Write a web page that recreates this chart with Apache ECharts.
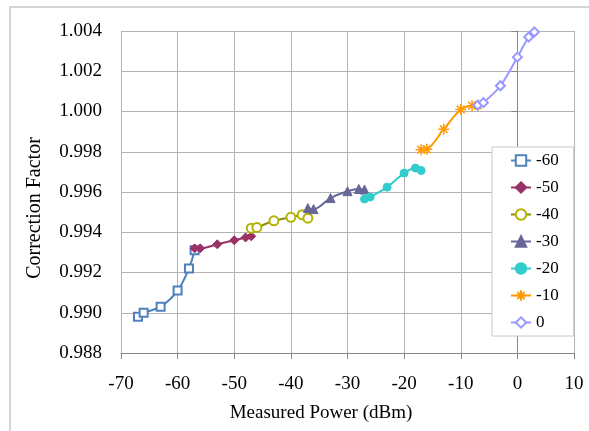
<!DOCTYPE html>
<html>
<head>
<meta charset="utf-8">
<script src="https://cdn.jsdelivr.net/npm/echarts@6/dist/echarts.min.js"></script>
<style>
  html, body { margin: 0; padding: 0; background: #fff; }
  #chart { width: 589px; height: 431px; }
</style>
</head>
<body>
<div id="chart"></div>
<script>
// Data: measured power (dBm) and correction factor per range
var seriesNames = ["-60", "-50", "-40", "-30", "-20", "-10", "0"];
var power60 = [-67, -66, -63, -60, -58, -57];
var factor60 = [0.9898, 0.9900, 0.9903, 0.9911, 0.9922, 0.9931];
var power50 = [-57, -56, -53, -50, -48, -47];
var factor50 = [0.9932, 0.9932, 0.9934, 0.9936, 0.99374, 0.9938];
var power40 = [-47, -46, -43, -40, -38, -37];
var factor40 = [0.9942, 0.99424, 0.99457, 0.99474, 0.99487, 0.9947];
var power30 = [-37, -36, -33, -30, -28, -27];
var factor30 = [0.9952, 0.99515, 0.9957, 0.99604, 0.99615, 0.99612];
var power20 = [-27, -26, -23, -20, -18, -17];
var factor20 = [0.99565, 0.99575, 0.99624, 0.99694, 0.99719, 0.99707];
var power10 = [-17, -16, -13, -10, -8, -7];
var factor10 = [0.9981, 0.99813, 0.99912, 1.0001, 1.00029, 1.0003];
var power0 = [-7, -6, -3, 0, 2, 3];
var factor0 = [1.00032, 1.00044, 1.00128, 1.0027, 1.0037, 1.00395];

var xValues = [power60, power50, power40, power30, power20, power10, power0];
var yValues = [factor60, factor50, factor40, factor30, factor20, factor10, factor0];

var colors = ["#4f81bd", "#993366", "#8c8c00", "#666699", "#33cccc", "#ff9900", "#9999ff"];
var markerColors = ["#4f81bd", "#993366", "#b3b300", "#666699", "#33cccc", "#ff9900", "#9999ff"];
var symbols = [
    "emptyRect",
    "diamond",
    "emptyCircle",
    "triangle",
    "circle",
    "path://M0,-10L0,10M-10,0L10,0M-7,-7L7,7M7,-7L-7,7",
    "emptyDiamond",
];
var symbolSizes = [8, 9, 9, 9, 8, 11, 9];

var font = "Liberation Serif";

var myChart = echarts.init(document.getElementById("chart"), null, {
    width: 589,
    height: 431,
    renderer: "canvas",
});

var series = seriesNames.map(function (name, i) {
    var pts = xValues[i].map(function (x, j) {
        return [x, yValues[i][j]];
    });
    var isStar = i === 5;
    return {
        name: name,
        type: "line",
        data: pts,
        smooth: 0.35,
        symbol: symbols[i],
        symbolSize: symbolSizes[i],
        showAllSymbol: true,
        lineStyle: { color: colors[i], width: 2 },
        itemStyle: {
            color: isStar ? "rgba(0,0,0,0)" : markerColors[i],
            borderColor: markerColors[i],
            borderWidth: isStar ? 1.5 : 1,
        },
        emphasis: { disabled: true },
        animation: false,
    };
});

var option = {
    backgroundColor: "#fff",
    animation: false,
    graphic: [
        {
            type: "polyline",
            shape: { points: [[10, 431], [10, 7], [589, 7]] },
            style: { stroke: "#d4d4d4", lineWidth: 2, fill: null },
            silent: true,
        },
        {
            // axis titles are centred on the (cropped) chart area, not the plot
            type: "text",
            x: 321,
            y: 413,
            style: {
                text: "Measured Power (dBm)",
                font: "19px " + font,
                fill: "#000",
                textAlign: "center",
                textVerticalAlign: "middle",
            },
            silent: true,
        },
        {
            type: "text",
            x: 35,
            y: 208,
            rotation: Math.PI / 2,
            style: {
                text: "Correction Factor",
                font: "20px " + font,
                fill: "#000",
                textAlign: "center",
                textVerticalAlign: "middle",
            },
            silent: true,
        },
    ],
    grid: {
        left: 121,
        top: 31,
        right: 15,
        bottom: 78,
        containLabel: false,
    },
    legend: {
        orient: "vertical",
        left: 492,
        top: 147,
        padding: [5, 15, 5, 18],
        itemWidth: 20,
        itemHeight: 13,
        itemGap: 10,
        backgroundColor: "#fff",
        borderColor: "#c8c8c8",
        borderWidth: 1,
        textStyle: { fontFamily: font, fontSize: 17, color: "#000" },
        data: seriesNames,
    },
    xAxis: {
        type: "value",
        min: -70,
        max: 10,
        interval: 10,
        axisLine: { onZero: false, lineStyle: { color: "#868686", width: 1 } },
        axisTick: { show: true, length: 6, lineStyle: { color: "#868686" } },
        axisLabel: { fontFamily: font, fontSize: 19, color: "#000", margin: 22 },
        splitLine: { show: true, lineStyle: { color: "#b3b3b3", width: 1 } },
    },
    yAxis: {
        type: "value",
        min: 0.988,
        max: 1.004,
        interval: 0.002,
        axisLine: { show: true, lineStyle: { color: "#868686", width: 1 } },
        axisTick: { show: true, length: 6, lineStyle: { color: "#868686" } },
        axisLabel: {
            fontFamily: font,
            fontSize: 19,
            color: "#000",
            margin: 19,
            formatter: function (v) {
                return v.toFixed(3);
            },
        },
        splitLine: { show: true, lineStyle: { color: "#b3b3b3", width: 1 } },
    },
    series: series,
};

myChart.setOption(option);
</script>
</body>
</html>
